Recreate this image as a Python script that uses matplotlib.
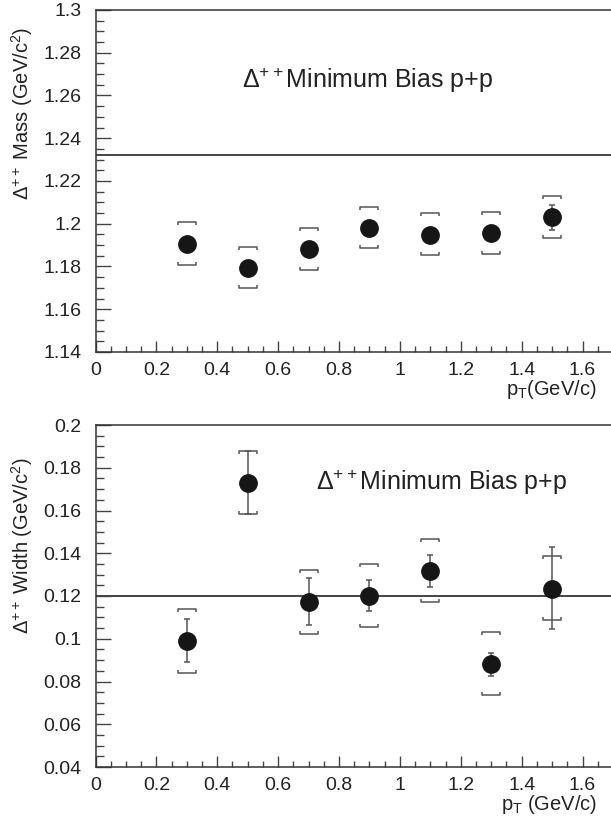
# Delta++ mass and width vs pT, min bias p+p (two stacked panels, ROOT-like style)

import numpy as np
import matplotlib
matplotlib.use('Agg')
import matplotlib.pyplot as plt
from matplotlib.path import Path
from matplotlib.ticker import MultipleLocator, FuncFormatter

plt.rcParams['font.family'] = ['Liberation Sans', 'DejaVu Sans']
plt.rcParams['mathtext.fontset'] = 'custom'
plt.rcParams['mathtext.rm'] = 'Liberation Sans'
plt.rcParams['mathtext.it'] = 'Liberation Sans'

pt = [0.3, 0.5, 0.7, 0.9, 1.1, 1.3, 1.5]

mass = [1.1905, 1.1793, 1.1881, 1.1981, 1.1948, 1.1956, 1.2030]
mass_stat = [0.003, 0.003, 0.003, 0.003, 0.003, 0.003, 0.006]
mass_sys_hi = [1.2006, 1.1892, 1.1980, 1.2079, 1.2048, 1.2056, 1.2131]
mass_sys_lo = [1.1805, 1.1698, 1.1785, 1.1885, 1.1852, 1.1860, 1.1931]
mass_ref = 1.232

width = [0.0990, 0.1730, 0.1171, 0.1202, 0.1316, 0.0881, 0.1235]
width_stat_hi = [0.1093, 0.1880, 0.1282, 0.1277, 0.1393, 0.0935, 0.1427]
width_stat_lo = [0.0889, 0.1583, 0.1062, 0.1129, 0.1241, 0.0828, 0.1046]
width_sys_hi = [0.1138, 0.1880, 0.1321, 0.1352, 0.1468, 0.1032, 0.1387]
width_sys_lo = [0.0842, 0.1583, 0.1024, 0.1054, 0.1170, 0.0736, 0.1087]
width_ref = 0.12

W, H = 611, 825
fig = plt.figure(figsize=(W / 100, H / 100), dpi=100)

# bracket markers for systematic errors
top_bracket = Path([(-1, -0.3), (-1, 0), (1, 0), (1, -0.3)])
bot_bracket = Path([(-1, 0.3), (-1, 0), (1, 0), (1, 0.3)])

TXT = '#222222'
GRAY = '#555555'


def fmt(v, pos):
    s = f'{v:.2f}'.rstrip('0').rstrip('.')
    return s


def style_axes(ax, ylo, yhi):
    ax.set_xlim(0, 1.7)
    ax.set_ylim(ylo, yhi)
    ax.spines['right'].set_visible(False)
    for s in ax.spines.values():
        s.set_linewidth(1.1)
        s.set_color('#333333')
    ax.xaxis.set_major_locator(MultipleLocator(0.2))
    ax.xaxis.set_minor_locator(MultipleLocator(0.05))
    ax.yaxis.set_major_locator(MultipleLocator(0.02))
    ax.yaxis.set_minor_locator(MultipleLocator(0.005))
    ax.xaxis.set_major_formatter(FuncFormatter(fmt))
    ax.yaxis.set_major_formatter(FuncFormatter(fmt))
    ax.tick_params(which='both', direction='in', top=False, right=False,
                   labelsize=14, labelcolor=TXT, color='#444444', width=1)
    ax.tick_params(axis='y', which='major', length=11, pad=10)
    ax.tick_params(axis='y', which='minor', length=6)
    ax.tick_params(axis='x', which='major', length=8, pad=7)
    ax.tick_params(axis='x', which='minor', length=4)


def draw_panel(ax, y, stat_lo, stat_hi, sys_lo, sys_hi, ref):
    ax.axhline(ref, color='#111111', lw=1.1, zorder=1)
    ax.plot(pt, sys_hi, ls='none', marker=top_bracket, ms=13.5, mfc='none',
            mec=GRAY, mew=1.1, zorder=2)
    ax.plot(pt, sys_lo, ls='none', marker=bot_bracket, ms=13.5, mfc='none',
            mec=GRAY, mew=1.1, zorder=2)
    yerr = [np.array(y) - np.array(stat_lo), np.array(stat_hi) - np.array(y)]
    ax.errorbar(pt, y, yerr=yerr, fmt='none', ecolor=GRAY, elinewidth=1.1,
                capsize=2.5, capthick=1.1, zorder=3)
    ax.plot(pt, y, ls='none', marker='o', ms=12.5, color='#161616', zorder=4)


# top: mass
ax1 = fig.add_axes([95.5 / W, 1 - 352 / H, (613 - 95.5) / W, (352 - 10) / H])
style_axes(ax1, 1.14, 1.3)
draw_panel(ax1, mass,
           [m - e for m, e in zip(mass, mass_stat)],
           [m + e for m, e in zip(mass, mass_stat)],
           mass_sys_lo, mass_sys_hi, mass_ref)
fig.text(242 / W, 1 - 80 / H, r'Δ$^{++}$Minimum Bias p+p', fontsize=18,
         color=TXT, va='center', ha='left')
fig.text(22 / W, 1 - 27 / H, r'Δ$^{++}$ Mass (GeV/c$^{2}$)', fontsize=14.5,
         color=TXT, rotation=90, ha='center', va='top')
fig.text(597 / W, 1 - 390 / H, r'p$_{\mathrm{T}}$(GeV/c)', fontsize=14.5,
         color=TXT, ha='right', va='center')

# bottom: width
ax2 = fig.add_axes([95.5 / W, 1 - 767 / H, (613 - 95.5) / W, (767 - 425) / H])
style_axes(ax2, 0.04, 0.2)
draw_panel(ax2, width, width_stat_lo, width_stat_hi,
           width_sys_lo, width_sys_hi, width_ref)
fig.text(316 / W, 1 - 482 / H, r'Δ$^{++}$Minimum Bias p+p', fontsize=18,
         color=TXT, va='center', ha='left')
fig.text(22 / W, 1 - 457 / H, r'Δ$^{++}$ Width (GeV/c$^{2}$)', fontsize=14.5,
         color=TXT, rotation=90, ha='center', va='top')
fig.text(597 / W, 1 - 805 / H, r'p$_{\mathrm{T}}$ (GeV/c)', fontsize=14.5,
         color=TXT, ha='right', va='center')

fig.savefig('out.png', dpi=100)
